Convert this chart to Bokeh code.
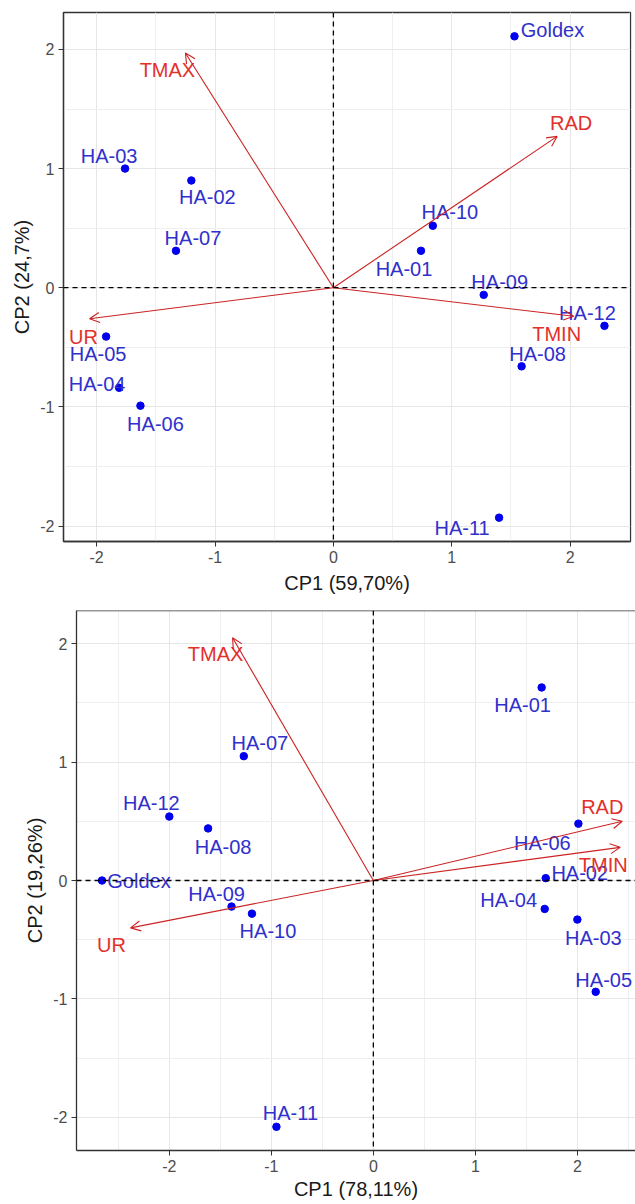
from bokeh.plotting import figure
from bokeh.models import ColumnDataSource, Arrow, OpenHead, FixedTicker, Span, Range1d
from bokeh.core.properties import value
from bokeh.embed import file_html
from bokeh.resources import INLINE

# ---------------- data ----------------
genotypes = ["Goldex", "HA-01", "HA-02", "HA-03", "HA-04", "HA-05", "HA-06",
             "HA-07", "HA-08", "HA-09", "HA-10", "HA-11", "HA-12"]
variables = ["TMAX", "RAD", "UR", "TMIN"]

# Plot A (CP1 59,70% / CP2 24,7%)
pc1_a = [1.53, 0.74, -1.20, -1.76, -1.81, -1.92, -1.63, -1.33, 1.59, 1.27, 0.84, 1.40, 2.29]
pc2_a = [2.11, 0.31, 0.90, 1.00, -0.84, -0.41, -0.99, 0.31, -0.66, -0.06, 0.52, -1.93, -0.32]
load1_a = [-1.25, 1.89, -2.06, 2.03]
load2_a = [1.97, 1.27, -0.26, -0.24]
xlabel_a = "CP1 (59,70%)"
ylabel_a = "CP2 (24,7%)"

# Plot B (CP1 78,11% / CP2 19,26%)
pc1_b = [-2.66, 1.65, 1.69, 2.00, 1.68, 2.18, 2.01, -1.27, -1.62, -1.39, -1.19, -0.95, -2.00]
pc2_b = [0.00, 1.63, 0.02, -0.33, -0.24, -0.94, 0.48, 1.05, 0.44, -0.22, -0.28, -2.08, 0.54]
load1_b = [-1.38, 2.44, -2.38, 2.42]
load2_b = [2.05, 0.50, -0.40, 0.28]
xlabel_b = "CP1 (78,11%)"
ylabel_b = "CP2 (19,26%)"

tick_values = [-2, -1, 0, 1, 2]
tick_labels = ["-2", "-1", "0", "1", "2"]

# ---------------- layout (label nudges in screen px) ----------------
gdx_a = [38, -17, 16, -16, -22, -8, 15, 17, 16, 16, 17, -37, -17]
gdy_a = [-6, 18, 17, -13, -4, 17, 18, -13, -12, -13, -14, 10, -13]
vdx_a = [-18, 14, -6, -17]
vdy_a = [17, -13, 18, 18]

gdx_b = [37, -19, 34, 16, -36, 8, -36, 16, 15, -15, 16, 14, -18]
gdy_b = [0, 18, -5, 18, -9, -12, 19, -13, 19, -13, 17, -14, -14]
vdx_b = [-17, -20, -19, -17]
vdy_b = [16, -14, 17, 18]

FONT = "Liberation Sans"
PT_COLOR = "#0000ee"
LBL_COLOR = "#3030cc"
ARROW_COLOR = "#cc2222"
VLBL_COLOR = "#e3302b"


def biplot(pc1, pc2, l1, l2, gdx, gdy, vdx, vdy, xr, yr, xlab, ylab,
           width, height, borders, xstand, ystand, outline_right=True):
    p = figure(width=width, height=height, x_range=Range1d(*xr), y_range=Range1d(*yr),
               output_backend="svg", toolbar_location=None,
               min_border_left=borders[0], min_border_right=borders[1],
               min_border_top=borders[2], min_border_bottom=borders[3])
    p.background_fill_color = "white"
    p.border_fill_color = "white"
    if outline_right:
        p.outline_line_color = "#333333"
        p.outline_line_width = 1.3
    else:
        p.outline_line_color = None
        p.add_layout(Span(location=yr[1], dimension="width",
                          line_color="#333333", line_width=1.3))

    minor = [-2.5, -1.5, -0.5, 0.5, 1.5, 2.5]
    for ax in (p.xaxis, p.yaxis):
        ax.ticker = FixedTicker(ticks=tick_values, minor_ticks=minor)
        ax.major_label_overrides = {v: s for v, s in zip(tick_values, tick_labels)}
        ax.major_label_text_font = FONT
        ax.major_label_text_font_size = "16px"
        ax.major_label_text_color = "#4d4d4d"
        ax.axis_label_text_font = FONT
        ax.axis_label_text_font_size = "20px"
        ax.axis_label_text_font_style = "normal"
        ax.axis_label_text_color = "#1a1a1a"
        ax.axis_line_color = "#333333"
        ax.axis_line_width = 1.3
        ax.major_tick_line_color = "#333333"
        ax.major_tick_in = 0
        ax.major_tick_out = 5
        ax.minor_tick_line_color = None
        ax.major_label_standoff = 4
    p.xaxis.axis_label = xlab
    p.yaxis.axis_label = ylab
    p.xaxis.axis_label_standoff = xstand
    p.yaxis.axis_label_standoff = ystand

    for g in (p.xgrid, p.ygrid):
        g.grid_line_color = "#e6e6e6"
        g.grid_line_width = 1
        g.minor_grid_line_color = "#efefef"
        g.minor_grid_line_width = 1

    gsrc = ColumnDataSource(dict(x=pc1, y=pc2, name=genotypes, dx=gdx, dy=gdy))
    vsrc = ColumnDataSource(dict(x0=[0] * len(l1), y0=[0] * len(l1), x=l1, y=l2,
                                 name=variables, dx=vdx, dy=vdy))

    p.scatter("x", "y", source=gsrc, size=7.5, color=PT_COLOR)
    p.text("x", "y", text="name", source=gsrc, x_offset="dx", y_offset="dy",
           text_align="center", text_baseline="middle",
           text_font=value(FONT), text_font_size=value("20px"), text_color=LBL_COLOR)
    p.text("x", "y", text="name", source=vsrc, x_offset="dx", y_offset="dy",
           text_align="center", text_baseline="middle",
           text_font=value(FONT), text_font_size=value("20px"), text_color=VLBL_COLOR)
    p.add_layout(Arrow(end=OpenHead(size=10, line_color=ARROW_COLOR, line_width=1.1),
                       x_start="x0", y_start="y0", x_end="x", y_end="y", source=vsrc,
                       line_color=ARROW_COLOR, line_width=1.1))
    p.add_layout(Span(location=0, dimension="width", line_color="black",
                      line_dash="5 4", line_width=1.3))
    p.add_layout(Span(location=0, dimension="height", line_color="black",
                      line_dash="5 4", line_width=1.3))
    return p


pa = biplot(pc1_a, pc2_a, load1_a, load2_a, gdx_a, gdy_a, vdx_a, vdy_a,
            (-2.28, 2.51), (-2.13, 2.31), xlabel_a, ylabel_a,
            635, 600, (63, 5, 12, 59), 6, 4)
pb = biplot(pc1_b, pc2_b, load1_b, load2_b, gdx_b, gdy_b, vdx_b, vdy_b,
            (-2.91, 2.57), (-2.28, 2.28), xlabel_b, ylabel_b,
            635, 604, (76, 0, 10, 54), 3, 4, outline_right=False)

# separate roots so that the two frames are not aligned to each other
open("out.html", "w").write(file_html([pa, pb], INLINE))
